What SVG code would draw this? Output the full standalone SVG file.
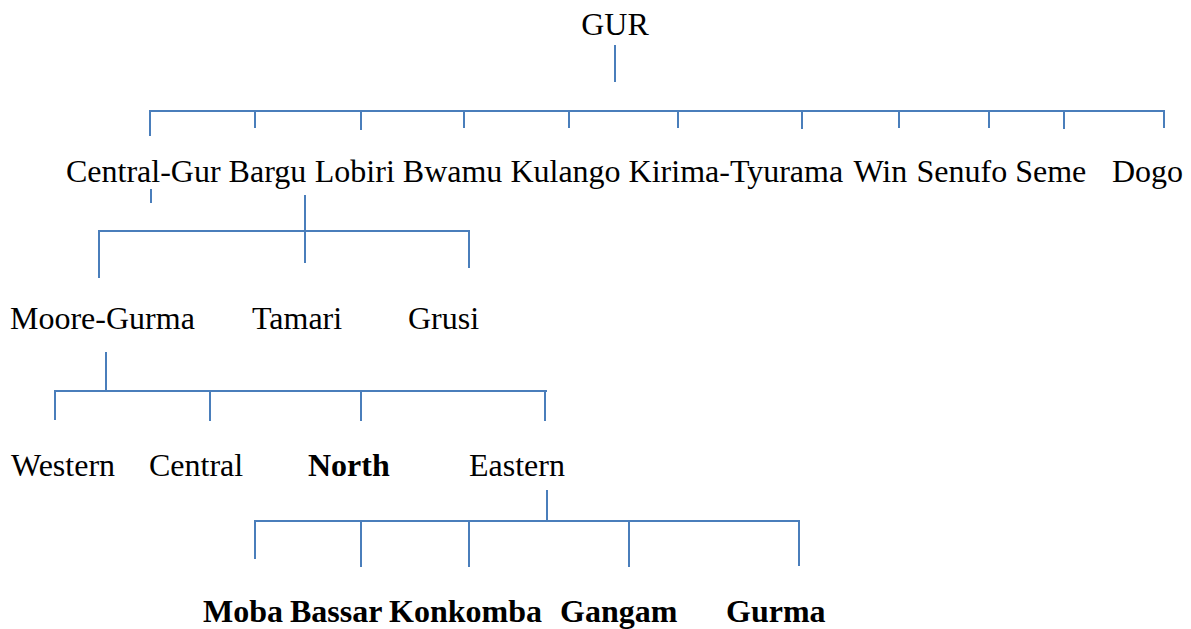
<svg xmlns="http://www.w3.org/2000/svg" width="1191" height="629" viewBox="0 0 1191 629">
  <style>
    .lbl { font-family: "Liberation Serif", "Times New Roman", serif; font-size: 32px; fill: #000; }
    .b { font-weight: bold; }
    .conn line { stroke: #4a7ebb; stroke-width: 2; fill: none; }
  </style>
  <rect width="1191" height="629" fill="#fff"/>

  <!-- connectors -->
  <g id="connectors" class="conn">
    <!-- GUR to its branches -->
    <line x1="615" y1="45" x2="615" y2="82"/>
    <line x1="150" y1="111" x2="1164" y2="111"/>
    <line x1="150" y1="110" x2="150" y2="136"/>
    <line x1="255" y1="111" x2="255" y2="128"/>
    <line x1="361" y1="111" x2="361" y2="130"/>
    <line x1="464" y1="111" x2="464" y2="128"/>
    <line x1="569" y1="111" x2="569" y2="128"/>
    <line x1="678" y1="111" x2="678" y2="128"/>
    <line x1="802" y1="111" x2="802" y2="129"/>
    <line x1="899" y1="111" x2="899" y2="128"/>
    <line x1="989" y1="111" x2="989" y2="128"/>
    <line x1="1064" y1="111" x2="1064" y2="129"/>
    <line x1="1164" y1="110" x2="1164" y2="128"/>
    <!-- Central-Gur to its branches -->
    <line x1="151" y1="189" x2="151" y2="203"/>
    <line x1="305" y1="195" x2="305" y2="263"/>
    <line x1="99" y1="231" x2="469" y2="231"/>
    <line x1="99" y1="230" x2="99" y2="278"/>
    <line x1="469" y1="230" x2="469" y2="268"/>
    <!-- Moore-Gurma to its branches -->
    <line x1="106" y1="352" x2="106" y2="391"/>
    <line x1="55" y1="391" x2="547" y2="391"/>
    <line x1="55" y1="390" x2="55" y2="420"/>
    <line x1="210" y1="391" x2="210" y2="421"/>
    <line x1="361" y1="391" x2="361" y2="421"/>
    <line x1="545" y1="390" x2="545" y2="421"/>
    <!-- Eastern to its branches -->
    <line x1="547" y1="490" x2="547" y2="521"/>
    <line x1="255" y1="521" x2="799" y2="521"/>
    <line x1="255" y1="520" x2="255" y2="559"/>
    <line x1="361" y1="521" x2="361" y2="567"/>
    <line x1="469" y1="521" x2="469" y2="567"/>
    <line x1="629" y1="521" x2="629" y2="567"/>
    <line x1="799" y1="520" x2="799" y2="566"/>
  </g>

  <!-- root -->
  <g id="gur"><text class="lbl" x="615" y="35" text-anchor="middle">GUR</text></g>

  <!-- first level -->
  <g id="central-gur"><text class="lbl" x="66" y="182">Central-Gur</text></g>
  <g id="bargu"><text class="lbl" x="228.6" y="182">Bargu</text></g>
  <g id="lobiri"><text class="lbl" x="314.8" y="182">Lobiri</text></g>
  <g id="bwamu"><text class="lbl" x="402.8" y="182">Bwamu</text></g>
  <g id="kulango"><text class="lbl" x="510.4" y="182">Kulango</text></g>
  <g id="kirima-tyurama"><text class="lbl" x="628.6" y="182">Kirima-Tyurama</text></g>
  <g id="win"><text class="lbl" x="853.4" y="182">Win</text></g>
  <g id="senufo"><text class="lbl" x="916.5" y="182">Senufo</text></g>
  <g id="seme"><text class="lbl" x="1015.2" y="182">Seme</text></g>
  <g id="dogo"><text class="lbl" x="1112" y="182">Dogo</text></g>

  <!-- second level -->
  <g id="moore-gurma"><text class="lbl" x="10" y="329">Moore-Gurma</text></g>
  <g id="tamari"><text class="lbl" x="252" y="329">Tamari</text></g>
  <g id="grusi"><text class="lbl" x="408" y="329">Grusi</text></g>

  <!-- third level -->
  <g id="western"><text class="lbl" x="11" y="476">Western</text></g>
  <g id="central"><text class="lbl" x="149" y="476">Central</text></g>
  <g id="north"><text class="lbl b" x="308" y="476">North</text></g>
  <g id="eastern"><text class="lbl" x="469" y="476">Eastern</text></g>

  <!-- fourth level -->
  <g id="moba"><text class="lbl b" x="203" y="622">Moba</text></g>
  <g id="bassar"><text class="lbl b" x="290" y="622">Bassar</text></g>
  <g id="konkomba"><text class="lbl b" x="389" y="622">Konkomba</text></g>
  <g id="gangam"><text class="lbl b" x="560" y="622">Gangam</text></g>
  <g id="gurma"><text class="lbl b" x="726" y="622">Gurma</text></g>
</svg>
